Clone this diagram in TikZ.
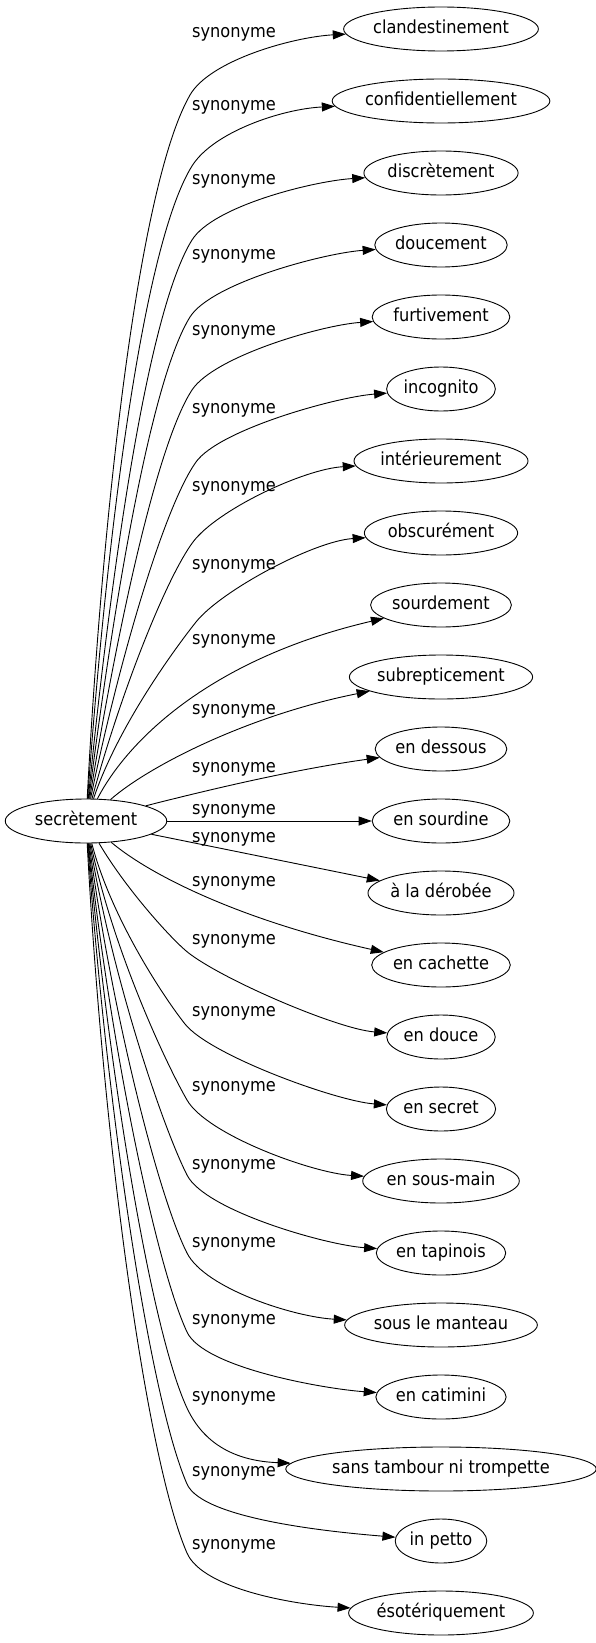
\documentclass[tikz,border=0pt]{standalone}
\usepackage{fontspec}
\setmainfont{DejaVu Sans Condensed}
\usetikzlibrary{arrows.meta,shapes.geometric,calc}

\begin{document}
\begin{tikzpicture}[x=1pt, y=-1pt,
    every node/.style={font=\fontsize{18}{21}\selectfont},
    word/.style={draw, ellipse, line width=0.9pt, inner xsep=1pt, inner ysep=0pt,
                 minimum height=44pt, text height=13pt, text depth=4pt},
    lbl/.style={inner sep=0pt, text height=13pt, text depth=4pt},
    syn/.style={line width=0.9pt, -{Triangle[length=13pt,width=9pt]}}]
    \useasboundingbox (0,0) rectangle (595,1643);

    % the word and its synonyms
    \node[word, inner xsep=6pt] (src) at (86,821) {secrètement};
    \foreach \w [count=\i from 0] in {clandestinement, confidentiellement,
        discrètement, doucement, furtivement, incognito, intérieurement,
        obscurément, sourdement, subrepticement, en dessous, en sourdine,
        à la dérobée, en cachette, en douce, en secret, en sous-main,
        en tapinois, sous le manteau, en catimini, sans tambour ni trompette,
        in petto, ésotériquement}
        \node[word] (t\i) at (441,29+72*\i) {\w};

    % edge labels
    \foreach \ly [count=\i from 0] in {33, 106, 180, 255, 331, 409, 487, 565,
        640, 710, 768, 810, 838, 882, 940, 1012, 1087, 1165, 1243, 1320,
        1397, 1472, 1545}
        \node[lbl] (l\i) at (234,\ly) {synonyme};

    % long edges: bend point m, slope at the source a, direction (u,v) at m
    \foreach \i/\mx/\my/\a/\u/\v in {0/190/95/0.05/0.5/-0.87,
        1/192/166/0.07/0.53/-0.85, 2/192/240/0.1/0.53/-0.85,
        3/190/317/0.13/0.53/-0.85, 4/192/390/0.17/0.55/-0.84,
        5/196/462/0.22/0.58/-0.81, 6/193/542/0.3/0.6/-0.8,
        7/196/622/0.4/0.62/-0.78,
        14/185/950/0.8/0.75/0.66, 15/185/1024/0.3/0.62/0.78,
        16/187/1100/0.23/0.5/0.87, 17/187/1175/0.18/0.45/0.89,
        18/187/1253/0.14/0.45/0.89, 19/187/1332/0.11/0.42/0.9,
        20/187/1408/0.09/0.42/0.9, 21/187/1484/0.07/0.4/0.92,
        22/187/1553/0.05/0.4/0.92} {
        \pgfmathsetmacro\sg{ifthenelse(\v<0,-1,1)}
        \pgfmathsetmacro\h{abs(\my-821)-20}
        \pgfmathsetmacro\px{88+\a*0.42*\h}
        \pgfmathsetmacro\py{821+\sg*(20+0.42*\h)}
        \pgfmathsetmacro\qx{\mx-(0.13*\h+10)*\u}
        \pgfmathsetmacro\qy{\my-(0.13*\h+10)*\v}
        \draw[syn] (src) .. controls (\px,\py) and (\qx,\qy) .. (\mx,\my)
            .. controls +(40*\u,40*\v) and ($(t\i.west)+(-50,-8*\sg)$) .. (t\i);
    }

    % short edges
    \draw[syn] (src) .. controls (125,745) and (205,660) .. (t8);
    \draw[syn] (src) .. controls (150,765) and (250,715) .. (t9);
    \draw[syn] (src) .. controls (200,792) and (290,770) .. (t10);
    \draw[syn] (src) -- (t11);
    \draw[syn] (src) -- (t12);
    \draw[syn] (src) .. controls (150,875) and (240,920) .. (t13);
\end{tikzpicture}
\end{document}
